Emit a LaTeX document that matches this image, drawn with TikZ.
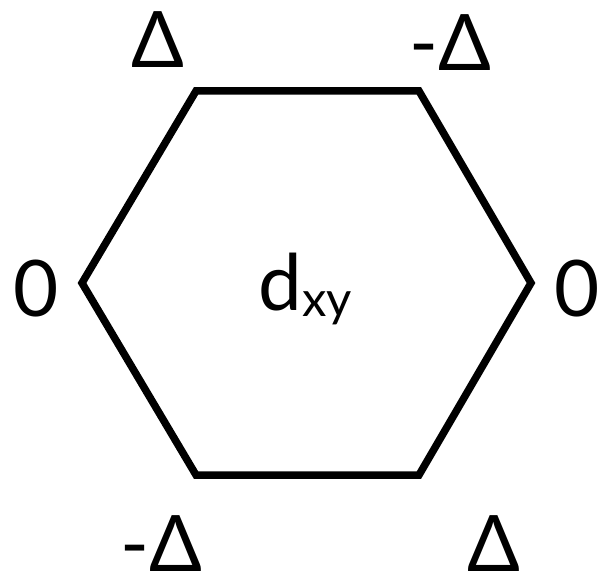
\documentclass[tikz,border=0pt]{standalone}
\usepackage{fontspec}
\setmainfont{Lato}
\begin{document}
\begin{tikzpicture}[x=1pt,y=-1pt,
  lbl/.style={inner sep=0pt,anchor=base,font=\fontsize{78}{94}\selectfont},
  hexline/.style={line width=7.5pt,line join=miter}]
\useasboundingbox (0,0) rectangle (603,586);
\coordinate (tl) at (196,91);
\coordinate (tr) at (419,91);
\coordinate (r) at (531,283);
\coordinate (br) at (419,475);
\coordinate (bl) at (196,475);
\coordinate (l) at (82,283);
\draw[hexline] (tl) -- (tr) -- (r) -- (br) -- (bl) -- (l) -- cycle;
\node[lbl] (ltl) at (158,68) {Δ};
\node[lbl] (ltr) at (450,71) {-Δ};
\node[lbl] (ll) at (36,316) {0};
\node[lbl] (lr) at (577,316) {0};
\node[lbl] (lbl) at (161,571) {-Δ};
\node[lbl] (lbr) at (494,571) {Δ};
\node[lbl] (ctr) at (305,310) {d\raisebox{-6pt}{\fontsize{49}{59}\selectfont xy}};
\end{tikzpicture}
\end{document}
